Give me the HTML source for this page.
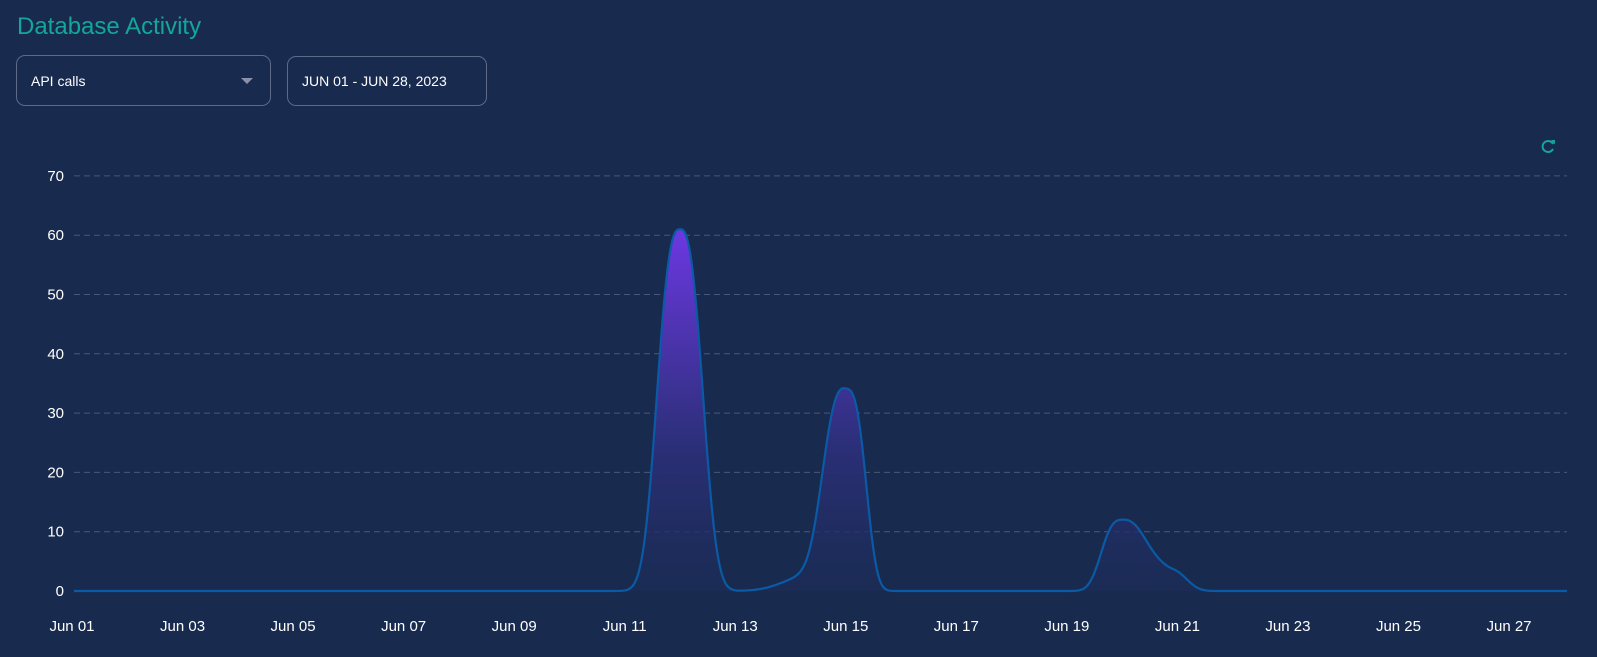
<!DOCTYPE html>
<html><head><meta charset="utf-8"><style>
html,body{margin:0;padding:0;background:#182a4e;width:1597px;height:657px;overflow:hidden;font-family:"Liberation Sans",sans-serif;}
.title{position:absolute;left:17px;top:13px;font-size:24px;color:#14a699;}
.box{position:absolute;border:1px solid #5d6a88;border-radius:9px;box-sizing:border-box;color:#fff;font-size:14px;}
</style></head><body>
<div class="title">Database Activity</div>
<div class="box" style="left:16px;top:55px;width:255px;height:51px;"><span style="position:absolute;left:14px;top:17px;">API calls</span>
<svg style="position:absolute;left:224px;top:22px" width="12" height="8"><polygon points="0,0 12,0 6,6" fill="#8b90ab"/></svg></div>
<div class="box" style="left:287px;top:56px;width:200px;height:50px;"><span style="position:absolute;left:14px;top:16px;">JUN 01 - JUN 28, 2023</span></div>
<svg id="c" width="1597" height="657" style="position:absolute;left:0;top:0">
<defs><linearGradient id="g" gradientUnits="userSpaceOnUse" x1="0" y1="229" x2="0" y2="591">
<stop offset="0" stop-color="#6c38e2"/><stop offset="0.6" stop-color="#2b2f78"/><stop offset="1" stop-color="#1c2c58" stop-opacity="0.6"/></linearGradient></defs>
<g id="grid" stroke="#4a5878" stroke-dasharray="6 4" stroke-width="1"></g>
<g id="yl" fill="#fff" font-size="15" text-anchor="end"></g>
<g id="xl" fill="#fff" font-size="15" text-anchor="middle"></g>
<path id="area" fill="url(#g)"/>
<path id="line" fill="none" stroke="#0a5aa6" stroke-width="2.2"/>
<g transform="translate(1548,146)" fill="none" stroke="#14a699" stroke-width="2"><path d="M5,-2 A5.5,5.5 0 1 0 5,3"/><polygon points="3,-6 7,-6 7,-1.5" fill="#14a699" stroke="none"/></g>
</svg>
<script>
var x0=72,dx=55.27,y0=591,py=5.93,xe=1567;
var grid=document.getElementById('grid'),yl=document.getElementById('yl'),xl=document.getElementById('xl');
var h='';
for(var v=10;v<=70;v+=10){var y=y0-v*py;h+='<line x1="74" x2="'+xe+'" y1="'+y+'" y2="'+y+'"/>';}
grid.innerHTML=h;h='';
for(var v=0;v<=70;v+=10){h+='<text x="64" y="'+(y0-v*py+5)+'">'+v+'</text>';}
yl.innerHTML=h;h='';
for(var d=1;d<=27;d+=2){h+='<text x="'+(x0+(d-1)*dx)+'" y="631">Jun '+(d<10?'0':'')+d+'</text>';}
xl.innerHTML=h;
function pk(d,c,a,sl,pl,sr,pr){var t=d-c;var s=t<0?sl:sr,p=t<0?pl:pr;return a*Math.exp(-Math.pow(Math.abs(t)/s,p));}
function f(d){return pk(d,11,61,0.5,2.7,0.5,2.7)+pk(d,14,34,0.5,2.6,0.43,3)+pk(d,13.3,2.5,0.6,2,0.5,3)
+pk(d,19,12,0.45,2.8,0.55,2.6)+pk(d,19.85,3.5,0.45,2.5,0.4,2.5);}
var pts=[];for(var x=74;x<=xe;x+=1){var d=(x-x0)/dx;pts.push(x+','+(y0-f(d)*py).toFixed(2));}
var l='M'+pts.join('L');
document.getElementById('line').setAttribute('d',l);
document.getElementById('area').setAttribute('d',l+'L'+xe+','+y0+'L74,'+y0+'Z');
</script>
</body></html>
